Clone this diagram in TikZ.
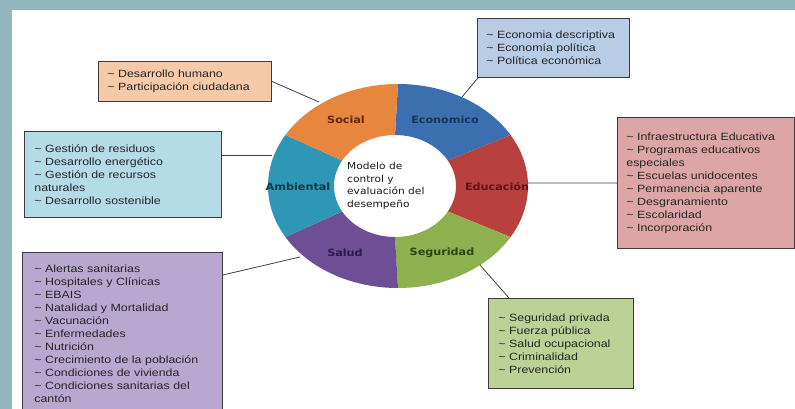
\documentclass[tikz,border=0pt]{standalone}
\usepackage{fontspec}
\setmainfont{Liberation Sans}
\newfontfamily\boxfont[FakeStretch=1.18]{Liberation Sans}
\newfontfamily\ringfont[FakeStretch=1.12]{DejaVu Sans}
\newfontfamily\hubfont[FakeStretch=1.12]{DejaVu Sans}
\usepackage{tikz}
\usetikzlibrary{positioning,calc}

\definecolor{frameteal}{HTML}{93B5BC}
\definecolor{boxline}{HTML}{3C3C3C}
\definecolor{linkgrey}{HTML}{404040}
% ring segments
\definecolor{socialseg}{HTML}{E8863E}
\definecolor{ecoseg}{HTML}{3C6FAF}
\definecolor{eduseg}{HTML}{B8403F}
\definecolor{seguseg}{HTML}{8DB14E}
\definecolor{saludseg}{HTML}{6E4F96}
\definecolor{ambseg}{HTML}{2E97B5}
% segment labels
\definecolor{sociallbl}{HTML}{5A2A0C}
\definecolor{ecolbl}{HTML}{1B3456}
\definecolor{edulbl}{HTML}{641414}
\definecolor{segulbl}{HTML}{2C4512}
\definecolor{saludlbl}{HTML}{2C1B4A}
\definecolor{amblbl}{HTML}{0E3A48}
% boxes
\definecolor{socialfill}{HTML}{F6C9A9}
\definecolor{ecofill}{HTML}{B8CCE5}
\definecolor{ambfill}{HTML}{B3DCE6}
\definecolor{edufill}{HTML}{DDA5A6}
\definecolor{segufill}{HTML}{BCD196}
\definecolor{saludfill}{HTML}{B8A7CF}

\newcommand{\itm}{\textasciitilde\ }
% one piece of the ring: start angle, end angle, colour
\newcommand{\ringseg}[3]{%
  \fill[#3] ($(oc)+(#1:130 and 102)$)
    arc[start angle=#1, end angle=#2, x radius=130, y radius=102]
    -- ($(ic)+(#2:61 and 51)$)
    arc[start angle=#2, end angle=#1, x radius=61, y radius=51] -- cycle;}

\begin{document}
\begin{tikzpicture}[x=1pt, y=-1pt,
  infobox/.style={draw=boxline, line width=0.8pt, anchor=north west, align=left,
    inner xsep=9pt, inner ysep=0pt, text=black!85,
    font=\boxfont\fontsize{10.5}{13}\selectfont},
  seglabel/.style={font=\ringfont\bfseries\fontsize{10}{12}\selectfont},
  link/.style={draw=linkgrey, line width=0.8pt}]
\useasboundingbox (0,0) rectangle (795,409);
\clip (0,0) rectangle (795,409);

% Frame
\fill[frameteal] (0,0) rectangle (795,409);
\fill[white] (12,10) rectangle (795,409);

% Ring
\coordinate (oc) at (398,186);
\coordinate (ic) at (395,186);
\ringseg{-90}{-30}{ecoseg}
\ringseg{-30}{30}{eduseg}
\ringseg{30}{90}{seguseg}
\ringseg{90}{150}{saludseg}
\ringseg{150}{210}{ambseg}
\ringseg{210}{270}{socialseg}

\node[seglabel, text=sociallbl] (social) at (346,120) {Social};
\node[seglabel, text=ecolbl] (economico) at (445,120) {Economico};
\node[seglabel, text=edulbl] (educacion) at (497,187) {Educación};
\node[seglabel, text=segulbl] (seguridad) at (442,253) {Seguridad};
\node[seglabel, text=saludlbl] (salud) at (345,253) {Salud};
\node[seglabel, text=amblbl] (ambiental) at (298,187) {Ambiental};

\node[anchor=west, align=left, inner sep=0pt, text=black!90,
  font=\hubfont\fontsize{9.5}{12.6}\selectfont] (hub) at (347,186)
  {Modelo de\\control y\\evaluación del\\desempeño};

% Boxes
\node[infobox, fill=socialfill, text width=155pt, minimum height=40pt]
  (socialbox) at (98,61) {\itm Desarrollo humano\\\itm Participación ciudadana};
\node[infobox, fill=ecofill, text width=134pt, minimum height=59pt]
  (ecobox) at (477,18) {\itm Economia descriptiva\\\itm Economía política\\\itm Política económica};
\node[infobox, fill=ambfill, text width=177pt, minimum height=86pt, inner xsep=10pt]
  (ambbox) at (24,131) {\itm Gestión de residuos\\\itm Desarrollo energético\\\itm Gestión de recursos\\naturales\\\itm Desarrollo sostenible};
\node[infobox, fill=edufill, text width=159pt, minimum height=131pt]
  (edubox) at (617,117) {\itm Infraestructura Educativa\\\itm Programas educativos\\especiales\\\itm Escuelas unidocentes\\\itm Permanencia aparente\\\itm Desgranamiento\\\itm Escolaridad\\\itm Incorporación};
\node[infobox, fill=segufill, text width=125pt, minimum height=90pt, inner xsep=10pt]
  (segbox) at (488,298) {\itm Seguridad privada\\\itm Fuerza pública\\\itm Salud ocupacional\\\itm Criminalidad\\\itm Prevención};
\node[infobox, fill=saludfill, text width=176pt, minimum height=163pt, inner xsep=12pt]
  (saludbox) at (22,252) {\itm Alertas sanitarias\\\itm Hospitales y Clínicas\\\itm EBAIS\\\itm Natalidad y Mortalidad\\\itm Vacunación\\\itm Enfermedades\\\itm Nutrición\\\itm Crecimiento de la población\\\itm Condiciones de vivienda\\\itm Condiciones sanitarias del\\cantón};

% Connectors
\coordinate (socialring) at (319,102);
\coordinate (ecoring) at (462,97);
\coordinate (ambring) at (272,155);
\coordinate (eduring) at (527,183);
\coordinate (saludring) at (300,257);
\coordinate (seguring) at (480,265);
\draw[link] (socialbox.east) -- (socialring);
\draw[link] ([xshift=1pt]ecobox.south west) -- (ecoring);
\draw[link] (ambring -| ambbox.east) -- (ambring);
\draw[link] (eduring) -- (edubox.west);
\draw[link] ([yshift=-23pt]saludbox.north east) -- (saludring);
\draw[link] (seguring) -- ([xshift=21pt]segbox.north west);
\end{tikzpicture}
\end{document}
